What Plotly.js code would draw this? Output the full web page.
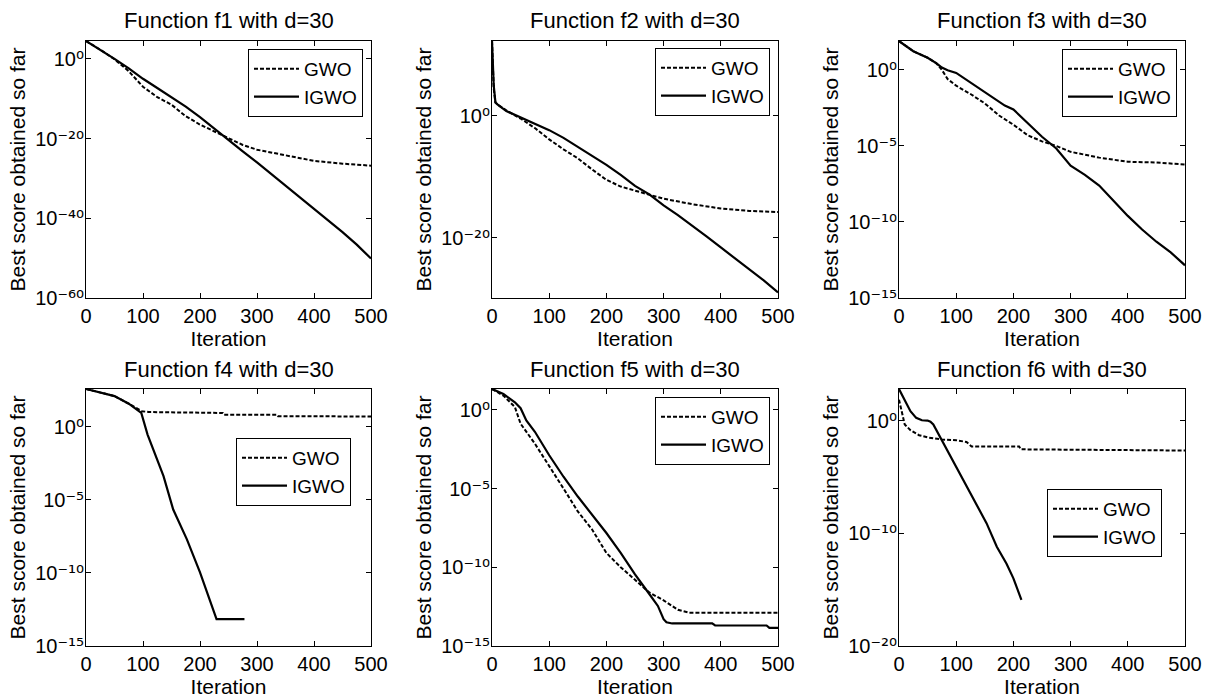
<!DOCTYPE html>
<html>
<head>
<meta charset="utf-8">
<script src="https://cdn.plot.ly/plotly-3.0.1.min.js"></script>
<style>html,body{margin:0;padding:0;background:#fff;}#chart{width:1207px;height:698px;}</style>
</head>
<body>
<div id="chart"></div>
<script>
// ---- data (best score per iteration) ----
const f1_gwo_it = [0,25,50,75,100,125,150,175,200,225,250,275,300,350,400,450,500];
const f1_gwo = [3e4,2e2,0.79,7.9e-4,1e-7,2.5e-10,3.2e-12,4e-15,3.2e-17,6.3e-19,7.9e-21,2.5e-22,1.6e-23,6.3e-25,2.5e-26,5e-27,1.6e-27];
const f1_igwo_it = [0,25,50,75,100,125,150,175,200,225,250,275,300,325,350,375,400,425,450,475,500];
const f1_igwo = [3e4,2.2e2,1,4e-3,1e-5,5e-8,2.5e-10,1e-12,2.5e-15,3.2e-18,3.2e-21,6.3e-24,1e-26,1.3e-29,1.6e-32,1.6e-35,2e-38,3.2e-41,3.2e-44,2.5e-47,7.9e-51];

const f2_gwo_it = [0,1,3,6,10,25,50,75,100,125,150,175,200,225,250,275,300,350,400,450,500];
const f2_gwo = [2e12,1e8,3.2e4,1.6e2,71,7.9,0.37,1e-2,1.4e-4,3.2e-6,1.1e-7,1.6e-9,3.2e-11,2.5e-12,5e-13,1.3e-13,2.5e-14,3.2e-15,6.3e-16,2.5e-16,1.6e-16];
const f2_igwo_it = [0,1,3,6,10,25,50,75,100,125,150,175,200,225,250,275,300,325,350,375,400,425,450,475,500];
const f2_igwo = [2e12,3.2e8,1e5,1.6e2,71,6.3,0.54,6.3e-2,4.6e-3,2.5e-4,8.9e-6,3.2e-7,9.1e-9,2e-10,3.2e-12,1.3e-13,2e-15,5e-17,1e-18,1.6e-20,2.5e-22,4e-24,7.9e-26,1e-27,1e-29];

const f3_gwo_it = [0,25,50,65,75,85,100,125,150,175,200,225,250,275,300,350,400,450,500];
const f3_gwo = [79,17,6.3,2.8,1,0.25,9.1e-2,2.6e-2,6.3e-3,1e-3,2.5e-4,5e-5,2e-5,1e-5,4.1e-6,1.7e-6,9.1e-7,8.1e-7,6e-7];
const f3_igwo_it = [0,25,50,65,75,85,100,125,150,175,185,200,225,250,275,300,325,350,375,400,425,450,475,500];
const f3_igwo = [79,17,6.3,2.8,1.41,0.95,0.63,0.15,3.3e-2,7.9e-3,4.5e-3,2.5e-3,3.2e-4,4e-5,6.8e-6,5e-7,1.26e-7,2.5e-8,2.5e-9,2.5e-10,3.2e-11,5e-12,1e-12,1.4e-13];

const f4_gwo_it = [0,25,50,75,98,110,168,170,240,242,335,337,500];
const f4_gwo = [4e2,2.2e2,1.3e2,39,12,10.5,10,9.1,9.1,6.9,6.9,5.5,5.2];
const f4_igwo_it = [0,25,50,75,97,108,118,136,153,177,200,217,229,278];
const f4_igwo = [4e2,2.2e2,1.3e2,39,9.1,3e-1,2.8e-2,4.3e-4,2.2e-6,2e-8,1.1e-10,1.6e-12,6.9e-14,6.9e-14];

const f5_gwo_it = [0,20,40,50,75,100,125,150,175,200,225,250,275,300,325,345,500];
const f5_gwo = [21,7.9,1.5,0.13,7e-3,2.4e-4,1e-5,3.5e-7,2.5e-8,8.1e-10,1e-10,1.6e-11,2.5e-12,7.9e-13,2e-13,1.3e-13,1.3e-13];
const f5_igwo_it = [0,20,40,50,60,75,100,125,150,175,200,225,250,275,290,300,305,315,385,390,480,485,500];
const f5_igwo = [21,10,3,1.26,0.21,4e-2,1.3e-3,5.6e-5,3.1e-6,2.1e-7,1.5e-8,8.1e-10,3.5e-11,2e-12,3.5e-13,5e-14,3.2e-14,2.7e-14,2.7e-14,2e-14,2e-14,1.4e-14,1.4e-14];

const f6_gwo_it = [0,3,6,10,20,35,50,75,100,118,127,210,213,330,500];
const f6_gwo = [72,16,2,0.45,0.14,5e-2,3.2e-2,2.1e-2,1.8e-2,1.26e-2,5e-3,5e-3,2.8e-3,2.5e-3,2.2e-3];
const f6_igwo_it = [0,10,20,30,40,50,55,60,75,100,130,153,171,188,200,214];
const f6_igwo = [6.3e2,72,6.8,1.74,1.07,1,0.79,0.45,1.7e-2,7.9e-5,1e-7,7.9e-10,6.3e-12,2e-13,1e-14,1.26e-16];

const titles = ["Function f1 with d=30","Function f2 with d=30","Function f3 with d=30","Function f4 with d=30","Function f5 with d=30","Function f6 with d=30"];
const seriesNames = ["GWO","IGWO"];
const xTicks = [0,100,200,300,400,500];
const yTickVals = [[1,1e-20,1e-40,1e-60],[1,1e-20],[1,1e-5,1e-10,1e-15],[1,1e-5,1e-10,1e-15],[1,1e-5,1e-10,1e-15],[1,1e-10,1e-20]];
const yTickExp = [["⁰","⁻²⁰","⁻⁴⁰","⁻⁶⁰"],["⁰","⁻²⁰"],["⁰","⁻⁵","⁻¹⁰","⁻¹⁵"],["⁰","⁻⁵","⁻¹⁰","⁻¹⁵"],["⁰","⁻⁵","⁻¹⁰","⁻¹⁵"],["⁰","⁻¹⁰","⁻²⁰"]];
const yRanges = [[-60,4.48],[-29.9,12.3],[-15,1.9],[-15,2.6],[-15,1.32],[-20,2.8]];

// ---- layout geometry ----
const W = 1207, H = 698;
const cols = [[86,371],[492,778],[899,1185]];
const rows = [[41,298],[389,646]];
const legendPos = [[248,49],[655,48],[1062,49],[236,438],[655,397],[1047,489]];
const FONT = "Liberation Sans, Arial, Helvetica, sans-serif";

const data = [
  [f1_gwo_it,f1_gwo,f1_igwo_it,f1_igwo],
  [f2_gwo_it,f2_gwo,f2_igwo_it,f2_igwo],
  [f3_gwo_it,f3_gwo,f3_igwo_it,f3_igwo],
  [f4_gwo_it,f4_gwo,f4_igwo_it,f4_igwo],
  [f5_gwo_it,f5_gwo,f5_igwo_it,f5_igwo],
  [f6_gwo_it,f6_gwo,f6_igwo_it,f6_igwo]
];

const traces = [];
const layout = {
  width: W, height: H,
  margin: {l:0,r:0,t:0,b:0},
  paper_bgcolor: "#fff", plot_bgcolor: "#fff",
  font: {family: FONT, color: "#000", size: 20},
  showlegend: true,
  annotations: []
};

for (let i = 0; i < 6; i++) {
  const r = Math.floor(i/3), c = i % 3;
  const sfx = i === 0 ? "" : String(i+1);
  const lg = i === 0 ? "legend" : "legend" + (i+1);
  const d = data[i];
  traces.push({x: d[0], y: d[1], name: seriesNames[0], type: "scatter", mode: "lines",
    xaxis: "x"+sfx, yaxis: "y"+sfx, legend: lg,
    line: {color: "#000", width: 2, dash: "4px,2px"}});
  traces.push({x: d[2], y: d[3], name: seriesNames[1], type: "scatter", mode: "lines",
    xaxis: "x"+sfx, yaxis: "y"+sfx, legend: lg,
    line: {color: "#000", width: 2.2}});

  const xd = [cols[c][0]/W, cols[c][1]/W];
  const yd = [1 - rows[r][1]/H, 1 - rows[r][0]/H];
  layout["xaxis"+sfx] = {
    domain: xd, anchor: "y"+sfx, range: [0,500],
    tickvals: xTicks, ticktext: xTicks.map(String),
    ticks: "inside", ticklen: 5, tickcolor: "#000", tickwidth: 1,
    showline: true, linecolor: "#000", linewidth: 1, mirror: "ticks",
    showgrid: false, zeroline: false,
    tickfont: {size: 20, family: FONT, color: "#000"},
    title: {text: "Iteration", font: {size: 21, family: FONT, color: "#000"}, standoff: 2}
  };
  layout["yaxis"+sfx] = {
    domain: yd, anchor: "x"+sfx, type: "log", range: yRanges[i],
    tickvals: yTickVals[i],
    ticktext: yTickExp[i].map(e => "10<span style=\"font-family:DejaVu Sans\">" + e + "</span>"),
    ticks: "inside", ticklen: 5, tickcolor: "#000", tickwidth: 1,
    showline: true, linecolor: "#000", linewidth: 1, mirror: "ticks",
    showgrid: false, zeroline: false,
    ticklabelstandoff: -3,
    tickfont: {size: 20, family: FONT, color: "#000"},
    title: {text: "Best score obtained so far", font: {size: 21, family: FONT, color: "#000"}, standoff: 3}
  };
  layout[lg] = {
    x: legendPos[i][0]/W, y: 1 - legendPos[i][1]/H, xanchor: "left", yanchor: "top",
    bgcolor: "#fff", bordercolor: "#000", borderwidth: 1, itemwidth: 45,
    font: {size: 19, family: FONT, color: "#000"}, tracegroupgap: 0
  };
  layout.annotations.push({
    text: titles[i], xref: "paper", yref: "paper",
    x: (xd[0]+xd[1])/2, y: 1 - (r === 0 ? 20 : 369)/H,
    xanchor: "center", yanchor: "middle", showarrow: false,
    font: {size: 22, family: FONT, color: "#000"}
  });
}

Plotly.newPlot("chart", traces, layout, {displayModeBar: false});
</script>
</body>
</html>
